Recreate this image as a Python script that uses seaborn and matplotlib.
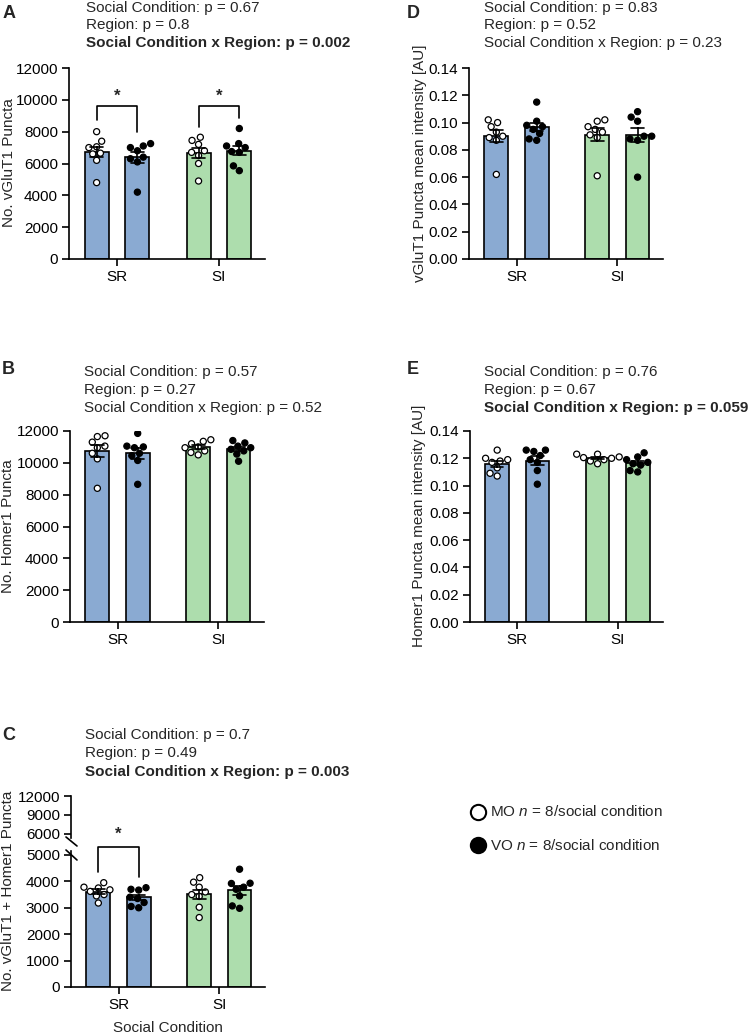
import numpy as np
import pandas as pd
import matplotlib
matplotlib.use("Agg")
import matplotlib.pyplot as plt
import seaborn as sns
from matplotlib.lines import Line2D

conditions = ["SR", "SI"]
regions = ["MO", "VO"]
bar_colors = {"SR": "#8AAAD2", "SI": "#ADDDAD"}

# A - No. vGluT1 puncta
vglut_sr_mo = [8000, 7400, 7050, 7000, 6650, 6600, 6200, 4800]
vglut_sr_vo = [7250, 7100, 7000, 6800, 6400, 6300, 6100, 4200]
vglut_si_mo = [7650, 7450, 7200, 6800, 6700, 6500, 6000, 4900]
vglut_si_vo = [8200, 7250, 7100, 7000, 6750, 6700, 5850, 5550]

# B - No. Homer1 puncta
homer_sr_mo = [11700, 11650, 11300, 11050, 10950, 10600, 10250, 8400]
homer_sr_vo = [11850, 11050, 11000, 10950, 10600, 10450, 10150, 8650]
homer_si_mo = [11450, 11350, 11200, 11000, 10950, 10750, 10650, 10500]
homer_si_vo = [11400, 11250, 11050, 10950, 10850, 10750, 10550, 10100]

# C - No. vGluT1 + Homer1 puncta
coloc_sr_mo = [3950, 3750, 3780, 3680, 3620, 3500, 3450, 3180]
coloc_sr_vo = [3760, 3700, 3670, 3400, 3350, 3200, 3050, 3000]
coloc_si_mo = [4140, 3970, 3780, 3600, 3500, 3430, 3020, 2630]
coloc_si_vo = [4460, 3930, 3920, 3780, 3700, 3450, 3070, 2980]

# D - vGluT1 mean intensity
vint_sr_mo = [0.102, 0.100, 0.097, 0.093, 0.090, 0.089, 0.087, 0.062]
vint_sr_vo = [0.115, 0.101, 0.098, 0.097, 0.095, 0.092, 0.088, 0.087]
vint_si_mo = [0.102, 0.101, 0.097, 0.095, 0.093, 0.091, 0.089, 0.061]
vint_si_vo = [0.108, 0.104, 0.101, 0.090, 0.090, 0.088, 0.087, 0.060]

# E - Homer1 mean intensity
hint_sr_mo = [0.126, 0.120, 0.119, 0.118, 0.117, 0.113, 0.109, 0.107]
hint_sr_vo = [0.126, 0.126, 0.125, 0.122, 0.119, 0.117, 0.111, 0.101]
hint_si_mo = [0.123, 0.123, 0.121, 0.1205, 0.120, 0.119, 0.118, 0.116]
hint_si_vo = [0.124, 0.121, 0.119, 0.117, 0.116, 0.115, 0.111, 0.110]

stats_a = ["Social Condition: p = 0.67", "Region: p = 0.8", "Social Condition x Region: p = 0.002"]
stats_b = ["Social Condition: p = 0.57", "Region: p = 0.27", "Social Condition x Region: p = 0.52"]
stats_c = ["Social Condition: p = 0.7", "Region: p = 0.49", "Social Condition x Region: p = 0.003"]
stats_d = ["Social Condition: p = 0.83", "Region: p = 0.52", "Social Condition x Region: p = 0.23"]
stats_e = ["Social Condition: p = 0.76", "Region: p = 0.67", "Social Condition x Region: p = 0.059"]

sns.set_style("ticks")
plt.rcParams["font.family"] = ["Liberation Sans", "DejaVu Sans"]
plt.rcParams["font.size"] = 11
plt.rcParams["mathtext.fontset"] = "custom"
plt.rcParams["mathtext.rm"] = "Liberation Sans"
plt.rcParams["mathtext.it"] = "Liberation Sans:italic"
plt.rcParams["axes.linewidth"] = 1.2
plt.rcParams["xtick.major.width"] = 1.2
plt.rcParams["ytick.major.width"] = 1.2
plt.rcParams["xtick.major.size"] = 5
plt.rcParams["ytick.major.size"] = 5
plt.rcParams["xtick.color"] = "black"
plt.rcParams["ytick.color"] = "black"
plt.rcParams["axes.edgecolor"] = "black"

FS = 11
W, H = 748, 1034
fig = plt.figure(figsize=(W / 100, H / 100), dpi=100)


def fx(x):
    return x / W


def fy(y):
    return 1 - y / H


def make_ax(left, top, right, bottom):
    return fig.add_axes([fx(left), fy(bottom), (right - left) / W, (bottom - top) / H])


def make_df(sr_mo, sr_vo, si_mo, si_vo):
    rows = []
    for cond, reg, vals in [("SR", "MO", sr_mo), ("SR", "VO", sr_vo),
                            ("SI", "MO", si_mo), ("SI", "VO", si_vo)]:
        for v in vals:
            rows.append({"cond": cond, "region": reg, "val": v})
    return pd.DataFrame(rows)


def draw_bars(ax, df):
    sns.barplot(data=df, x="cond", y="val", hue="region", order=conditions,
                hue_order=regions, palette={"MO": "#8AAAD2", "VO": "#8AAAD2"},
                width=0.8, gap=0.41, errorbar="se", capsize=0.25,
                err_kws={"color": "black", "linewidth": 1.2},
                edgecolor="black", linewidth=1.2, legend=False, ax=ax)
    for p in ax.patches:
        cx = p.get_x() + p.get_width() / 2
        p.set_facecolor(bar_colors["SR"] if cx < 0.5 else bar_colors["SI"])
    for ln in ax.lines:
        ln.set_zorder(4)
    sns.swarmplot(data=df, x="cond", y="val", hue="region", order=conditions,
                  hue_order=regions, dodge=True, palette={"MO": "white", "VO": "black"},
                  edgecolor="black", linewidth=0.9, size=4.4, legend=False, ax=ax, zorder=3)
    ax.set_xlim(-0.471, 1.452)
    ax.set_xlabel("")
    ax.set_ylabel("")
    sns.despine(ax=ax)
    ax.tick_params(axis="both", labelsize=FS, pad=3)


def bracket(ax, x0, x1, y0, y1, top, star_y):
    ax.plot([x0, x0, x1, x1], [y0, top, top, y1], color="black", lw=1.2,
            clip_on=False, zorder=5)
    ax.text((x0 + x1) / 2, star_y, "*", ha="center", va="center", fontsize=12,
            fontweight="bold", clip_on=False)


def stats_text(x, ys, lines, bold_last):
    for i, (y, t) in enumerate(zip(ys, lines)):
        fw = "bold" if (bold_last and i == 2) else "normal"
        fig.text(fx(x), fy(y), t, ha="left", va="center", fontsize=FS, fontweight=fw)


# Panel A
ax_a = make_ax(69, 68, 265, 259)
draw_bars(ax_a, make_df(vglut_sr_mo, vglut_sr_vo, vglut_si_mo, vglut_si_vo))
ax_a.set_ylim(0, 12000)
ax_a.set_yticks(np.arange(0, 12001, 2000))
bracket(ax_a, -0.2, 0.2, 8750, 8000, 9600, 10250)
bracket(ax_a, 0.8, 1.2, 8300, 8850, 9600, 10250)

# Panel D
ax_d = make_ax(469, 68, 663, 259)
draw_bars(ax_d, make_df(vint_sr_mo, vint_sr_vo, vint_si_mo, vint_si_vo))
ax_d.set_ylim(0, 0.14)
ax_d.set_yticks(np.arange(0, 0.141, 0.02))
ax_d.yaxis.set_major_formatter(matplotlib.ticker.FormatStrFormatter("%.2f"))

# Panel B
ax_b = make_ax(70, 431, 264, 622)
draw_bars(ax_b, make_df(homer_sr_mo, homer_sr_vo, homer_si_mo, homer_si_vo))
ax_b.set_ylim(0, 12000)
ax_b.set_yticks(np.arange(0, 12001, 2000))

# Panel E
ax_e = make_ax(470, 431, 663, 622)
draw_bars(ax_e, make_df(hint_sr_mo, hint_sr_vo, hint_si_mo, hint_si_vo))
ax_e.set_ylim(0, 0.14)
ax_e.set_yticks(np.arange(0, 0.141, 0.02))
ax_e.yaxis.set_major_formatter(matplotlib.ticker.FormatStrFormatter("%.2f"))

# Panel C (broken y axis)
ax_c = make_ax(71, 851, 265, 987)
draw_bars(ax_c, make_df(coloc_sr_mo, coloc_sr_vo, coloc_si_mo, coloc_si_vo))
ax_c.set_ylim(0, 5150)
ax_c.set_yticks(np.arange(0, 5001, 1000))
bracket(ax_c, -0.2, 0.2, 4370, 4180, 5315, 5800)

ax_c2 = make_ax(71, 796, 265, 838)
ax_c2.set_ylim(5368, 12000)
ax_c2.set_xlim(0, 1)
ax_c2.set_yticks([6000, 9000, 12000])
ax_c2.set_xticks([])
ax_c2.patch.set_alpha(0)
for s in ["top", "right", "bottom"]:
    ax_c2.spines[s].set_visible(False)
ax_c2.tick_params(axis="y", labelsize=FS, pad=3)

for (x0, y0, x1, y1) in [(66, 837, 77, 846), (66, 850, 77, 860)]:
    fig.add_artist(Line2D([fx(x0), fx(x1)], [fy(y0), fy(y1)], color="black",
                          lw=1.2, transform=fig.transFigure))

# stats lines
stats_text(86, [8, 25, 43], stats_a, True)
stats_text(484, [8, 25, 43], stats_d, False)
stats_text(84, [372, 390, 408], stats_b, False)
stats_text(484, [372, 390, 408], stats_e, True)
stats_text(85, [735, 753, 772], stats_c, True)

# panel letters
for letter, x, y in [("A", 3, 13), ("D", 407, 13), ("B", 2, 369), ("E", 407, 369), ("C", 2, 736)]:
    fig.text(fx(x), fy(y), letter, ha="left", va="center", fontsize=13, fontweight="bold")

# y labels
for label, x, y in [("No. vGluT1 Puncta", 9, 163),
                    ("vGluT1 Puncta mean intensity [AU]", 420, 163),
                    ("No. Homer1 Puncta", 8, 526),
                    ("Homer1 Puncta mean intensity [AU]", 419, 526),
                    ("No. vGluT1 + Homer1 Puncta", 8, 891)]:
    fig.text(fx(x), fy(y), label, rotation=90, ha="center", va="center", fontsize=FS)

fig.text(fx(168), fy(1028), "Social Condition", ha="center", va="center", fontsize=FS)

# legend
for face, lab, y in [("white", "MO $n$ = 8/social condition", 812),
                     ("black", "VO $n$ = 8/social condition", 845)]:
    fig.add_artist(Line2D([fx(478)], [fy(y)], marker="o", markersize=11,
                          markerfacecolor=face, markeredgecolor="black",
                          markeredgewidth=1.5, linestyle="none",
                          transform=fig.transFigure))
    fig.text(fx(490), fy(y), lab, ha="left", va="center", fontsize=FS)

fig.savefig("out.png", dpi=100)
